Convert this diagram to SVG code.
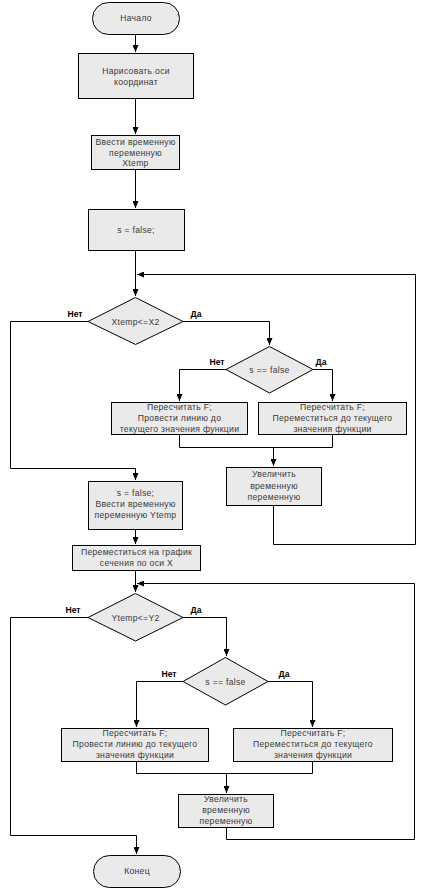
<svg xmlns="http://www.w3.org/2000/svg" width="425" height="890" viewBox="0 0 425 890">
<style>
.b{fill:#eaeaea;stroke:#000;stroke-width:1}
.t{font-family:"Liberation Sans",Arial,sans-serif;font-size:8.6px;fill:#3a3a3a;text-anchor:middle;letter-spacing:0.3px}
.l{font-family:"Liberation Sans",Arial,sans-serif;font-size:8.6px;font-weight:bold;fill:#000;text-anchor:middle}
.c{fill:none;stroke:#000;stroke-width:1}
</style>
<defs>
<marker id="a" markerUnits="userSpaceOnUse" markerWidth="8" markerHeight="6" refX="7" refY="3" orient="auto">
<path d="M0,0 L7,3 L0,6 z" fill="#000"/>
</marker>
</defs>
<rect width="425" height="890" fill="#fff"/>
<g id="connectors">
<path class="c" d="M135.5,34 V52" marker-end="url(#a)"/>
<path class="c" d="M135.5,98 V134" marker-end="url(#a)"/>
<path class="c" d="M135.5,169 V208" marker-end="url(#a)"/>
<path class="c" d="M135.5,250 V296" marker-end="url(#a)"/>
<path class="c" d="M273.5,505 V544.5 H415.5 V274.5 H137" marker-end="url(#a)"/>
<path class="c" d="M88,321.5 H10.5 V468.5 H135.5 V480" marker-end="url(#a)"/>
<path class="c" d="M183,321.5 H269.5 V345" marker-end="url(#a)"/>
<path class="c" d="M226,369.5 H179.5 V401" marker-end="url(#a)"/>
<path class="c" d="M313,369.5 H332.5 V401" marker-end="url(#a)"/>
<path class="c" d="M179.5,434 V447.5 H332.5 V434"/>
<path class="c" d="M273.5,447.5 V466" marker-end="url(#a)"/>
<path class="c" d="M135.5,529 V544" marker-end="url(#a)"/>
<path class="c" d="M135.5,570 V592" marker-end="url(#a)"/>
<path class="c" d="M226.5,827 V839.5 H414.5 V583.5 H137" marker-end="url(#a)"/>
<path class="c" d="M88,617.5 H10.5 V835.5 H136.5 V854" marker-end="url(#a)"/>
<path class="c" d="M183,617.5 H226.5 V656" marker-end="url(#a)"/>
<path class="c" d="M183,681.5 H136.5 V727" marker-end="url(#a)"/>
<path class="c" d="M268,681.5 H312.5 V727" marker-end="url(#a)"/>
<path class="c" d="M136.5,761 V773.5 H312.5 V761"/>
<path class="c" d="M226.5,773.5 V793" marker-end="url(#a)"/>
</g>
<g id="start">
<rect class="b" x="92.5" y="2.5" width="87" height="32" rx="16"/>
<text class="t" x="136" y="21">Начало</text>
</g>
<g id="axes">
<rect class="b" x="78.5" y="53.5" width="115" height="45"/>
<text class="t" x="136" y="74">Нарисовать оси</text>
<text class="t" x="136" y="85">координат</text>
</g>
<g id="inputX">
<rect class="b" x="91.5" y="135.5" width="88" height="34"/>
<text class="t" x="135.5" y="145">Ввести временную</text>
<text class="t" x="135.5" y="156">переменную</text>
<text class="t" x="135.5" y="166">Xtemp</text>
</g>
<g id="sfalse1">
<rect class="b" x="88.5" y="209.5" width="96" height="41"/>
<text class="t" x="136" y="233">s = false;</text>
</g>
<g id="condX">
<polygon class="b" points="135.5,297.5 183,321.5 135.5,344.5 88,321.5"/>
<text class="t" x="135.5" y="324.5">Xtemp&lt;=X2</text>
<text class="l" x="75" y="317">Нет</text>
<text class="l" x="196" y="317">Да</text>
</g>
<g id="condS1">
<polygon class="b" points="269.5,346.5 313,369.5 269.5,393 226,369.5"/>
<text class="t" x="269.5" y="372.5">s == false</text>
<text class="l" x="217" y="365">Нет</text>
<text class="l" x="321" y="365">Да</text>
</g>
<g id="drawX">
<rect class="b" x="111.5" y="402.5" width="136" height="32"/>
<text class="t" x="179.5" y="410">Пересчитать F;</text>
<text class="t" x="179.5" y="421">Провести линию до</text>
<text class="t" x="179.5" y="432">текущего значения функции</text>
</g>
<g id="moveX">
<rect class="b" x="258.5" y="402.5" width="148" height="32"/>
<text class="t" x="332.5" y="410">Пересчитать F;</text>
<text class="t" x="332.5" y="421">Переместиться до текущего</text>
<text class="t" x="332.5" y="432">значения функции</text>
</g>
<g id="incX">
<rect class="b" x="226.5" y="467.5" width="95" height="38"/>
<text class="t" x="274" y="477">Увеличить</text>
<text class="t" x="274" y="489">временную</text>
<text class="t" x="274" y="500">переменную</text>
</g>
<g id="inputY">
<rect class="b" x="88.5" y="481.5" width="94" height="48"/>
<text class="t" x="135.5" y="496">s = false;</text>
<text class="t" x="135.5" y="507">Ввести временную</text>
<text class="t" x="135.5" y="518">переменную Ytemp</text>
</g>
<g id="moveGraph">
<rect class="b" x="72.5" y="545.5" width="128" height="25"/>
<text class="t" x="136.5" y="555">Переместиться на график</text>
<text class="t" x="136.5" y="566">сечения по оси X</text>
</g>
<g id="condY">
<polygon class="b" points="135.5,593.5 183,617.5 135.5,641 88,617.5"/>
<text class="t" x="135.5" y="620.5">Ytemp&lt;=Y2</text>
<text class="l" x="73" y="613">Нет</text>
<text class="l" x="196" y="613">Да</text>
</g>
<g id="condS2">
<polygon class="b" points="225.5,657.5 268,681.5 225.5,705 183,681.5"/>
<text class="t" x="225.5" y="684.5">s == false</text>
<text class="l" x="169" y="677">Нет</text>
<text class="l" x="284" y="677">Да</text>
</g>
<g id="drawY">
<rect class="b" x="61.5" y="728.5" width="147" height="33"/>
<text class="t" x="135" y="736">Пересчитать F;</text>
<text class="t" x="135" y="747">Провести линию до текущего</text>
<text class="t" x="135" y="758">значения функции</text>
</g>
<g id="moveY">
<rect class="b" x="233.5" y="728.5" width="159" height="33"/>
<text class="t" x="313" y="736">Пересчитать F;</text>
<text class="t" x="313" y="747">Переместиться до текущего</text>
<text class="t" x="313" y="758">значения функции</text>
</g>
<g id="incY">
<rect class="b" x="178.5" y="794.5" width="95" height="33"/>
<text class="t" x="226" y="802">Увеличить</text>
<text class="t" x="226" y="813">временную</text>
<text class="t" x="226" y="824">переменную</text>
</g>
<g id="end">
<rect class="b" x="93.5" y="855.5" width="87" height="32" rx="16"/>
<text class="t" x="137" y="874">Конец</text>
</g>
</svg>
